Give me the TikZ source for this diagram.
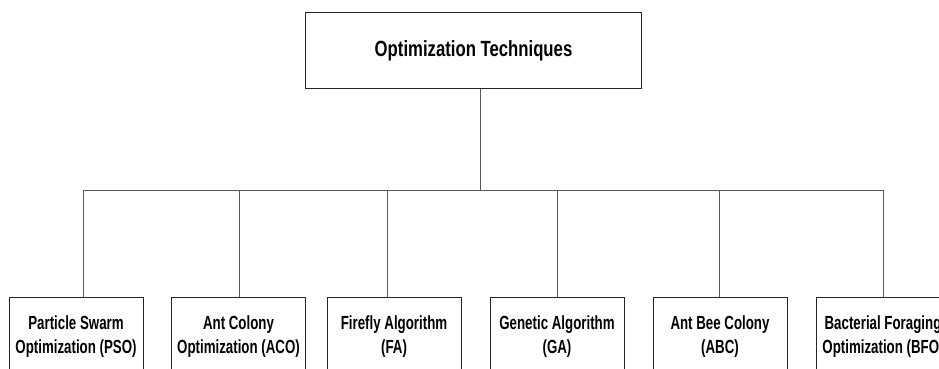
\documentclass[tikz,border=0pt]{standalone}
\usepackage{fontspec}
\newfontfamily\nb{Liberation Sans}[FakeStretch=0.76]
\newfontfamily\nc{Liberation Sans}[FakeStretch=0.70]
\begin{document}
\begin{tikzpicture}[x=1pt,y=-1pt,
  box/.style={draw=black!85,line width=1pt,fill=white,inner sep=0pt},
  kid/.style={box,minimum width=134pt,minimum height=78pt,anchor=north,align=center,
    font=\nc\bfseries\fontsize{19}{24}\selectfont},
  conn/.style={draw=black!65,line width=1pt}]
\useasboundingbox (0,0) rectangle (939,368);
\clip (0,0) rectangle (939,368);
\node[box,minimum width=336pt,minimum height=76pt,anchor=north west,
  font=\nb\bfseries\fontsize{22}{26}\selectfont] (top) at (305,12) {Optimization Techniques};
\node[kid] (k1) at (76,297) {Particle Swarm\\Optimization (PSO)};
\node[kid] (k2) at (238.5,297) {Ant Colony\\Optimization (ACO)};
\node[kid] (k3) at (394,297) {Firefly Algorithm\\(FA)};
\node[kid] (k4) at (557,297) {Genetic Algorithm\\(GA)};
\node[kid] (k5) at (720,297) {Ant Bee Colony\\(ABC)};
\node[kid] (k6) at (883,297) {Bacterial Foraging\\Optimization (BFO)};
\coordinate (hub) at (480,190);
\coordinate (j1) at (83,190);
\coordinate (j2) at (239,190);
\coordinate (j3) at (387,190);
\coordinate (j4) at (557,190);
\coordinate (j5) at (719,190);
\coordinate (j6) at (883,190);
\draw[conn] (hub |- top.south) -- (hub);
\draw[conn] (j1) -- (j6);
\foreach \i in {1,...,6} {\draw[conn] (j\i) -- (j\i |- k\i.north);}
\end{tikzpicture}
\end{document}
